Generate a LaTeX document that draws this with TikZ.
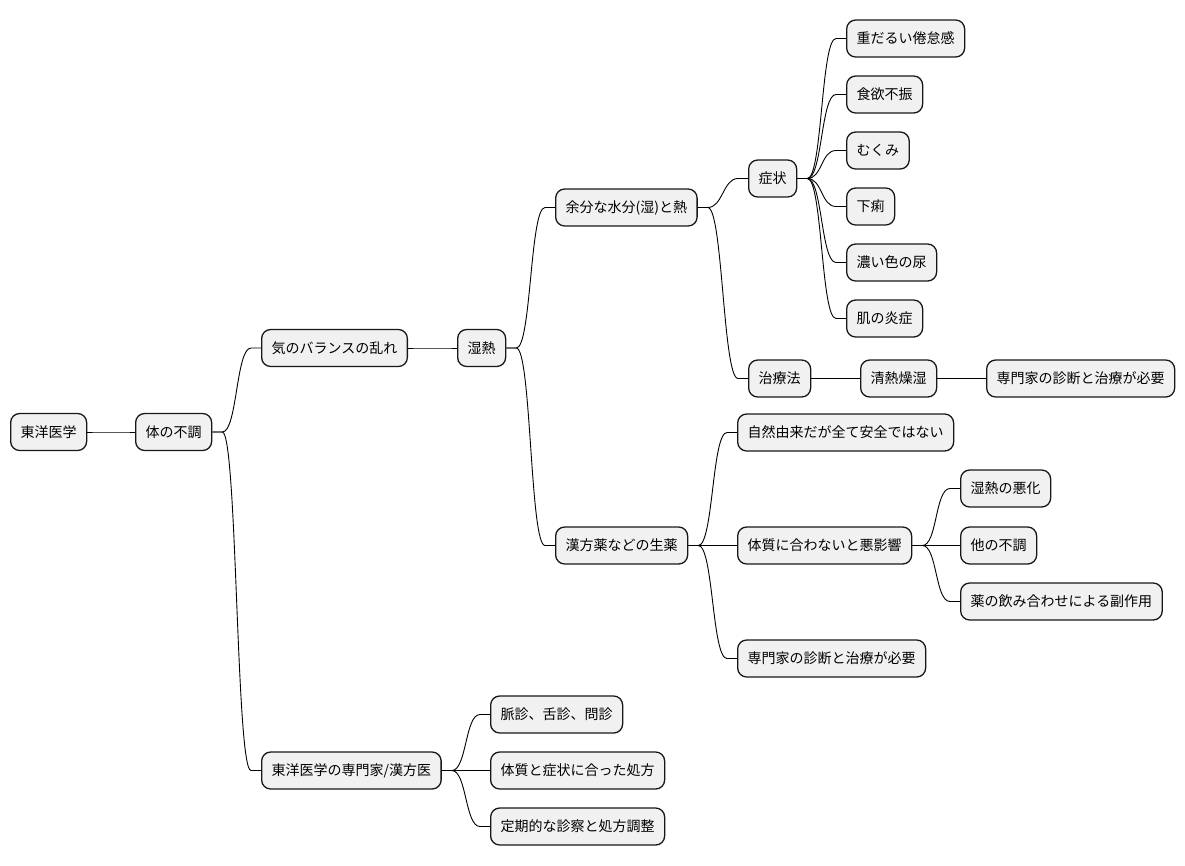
\documentclass[tikz,border=0pt]{standalone}
\usepackage{fontspec}
\setmainfont{Noto Sans CJK JP}
\usetikzlibrary{calc}
\definecolor{boxfill}{HTML}{F1F1F1}
\definecolor{boxline}{HTML}{181818}
\tikzset{
  mm/.style={draw=boxline, fill=boxfill, line width=1.3pt, rounded corners=9pt,
    anchor=west, minimum height=37pt, inner xsep=10pt, inner ysep=0pt,
    font=\fontsize{14pt}{16pt}\selectfont, text=black},
  conn/.style={draw=black, line width=0.9pt}
}
\begin{document}
\begin{tikzpicture}[x=1pt,y=-1pt]
\useasboundingbox (0,0) rectangle (1185,865);
\node[mm] (r) at (10,432) {東洋医学};
\node[mm] (t) at (135,432) {体の不調};
\node[mm] (k) at (261,348) {気のバランスの乱れ};
\node[mm] (s) at (457,348) {湿熱};
\node[mm] (y) at (555,207.5) {余分な水分(湿)と熱};
\node[mm] (sh) at (748,178.5) {症状};
\node[mm] (s1) at (846,38.5) {重だるい倦怠感};
\node[mm] (s2) at (846,94.5) {食欲不振};
\node[mm] (s3) at (846,150.5) {むくみ};
\node[mm] (s4) at (846,206.5) {下痢};
\node[mm] (s5) at (846,262.5) {濃い色の尿};
\node[mm] (s6) at (846,318.5) {肌の炎症};
\node[mm] (ch) at (748,378.5) {治療法};
\node[mm] (se) at (860,378.5) {清熱燥湿};
\node[mm] (sp) at (986,378.5) {専門家の診断と治療が必要};
\node[mm] (kp) at (555,545.5) {漢方薬などの生薬};
\node[mm] (n1) at (737,432.5) {自然由来だが全て安全ではない};
\node[mm] (n2) at (737,545.5) {体質に合わないと悪影響};
\node[mm] (m1) at (960,488.5) {湿熱の悪化};
\node[mm] (m2) at (960,545.5) {他の不調};
\node[mm] (m3) at (960,601.5) {薬の飲み合わせによる副作用};
\node[mm] (n3) at (737,658.5) {専門家の診断と治療が必要};
\node[mm] (e) at (261,770.5) {東洋医学の専門家/漢方医};
\node[mm] (e1) at (490,714.5) {脈診、舌診、問診};
\node[mm] (e2) at (490,770.5) {体質と症状に合った処方};
\node[mm] (e3) at (490,826.5) {定期的な診察と処方調整};
\foreach \a/\b in {r/t, t/k, t/e, k/s, s/y, s/kp, y/sh, y/ch,
  sh/s1, sh/s2, sh/s3, sh/s4, sh/s5, sh/s6, ch/se, se/sp,
  kp/n1, kp/n2, kp/n3, n2/m1, n2/m2, n2/m3, e/e1, e/e2, e/e3}
  \draw[conn] (\a.east) -- ++(10,0) .. controls +(15,0) and +(-15,0) .. ($(\b.west)+(-10,0)$) -- (\b.west);
\end{tikzpicture}
\end{document}
